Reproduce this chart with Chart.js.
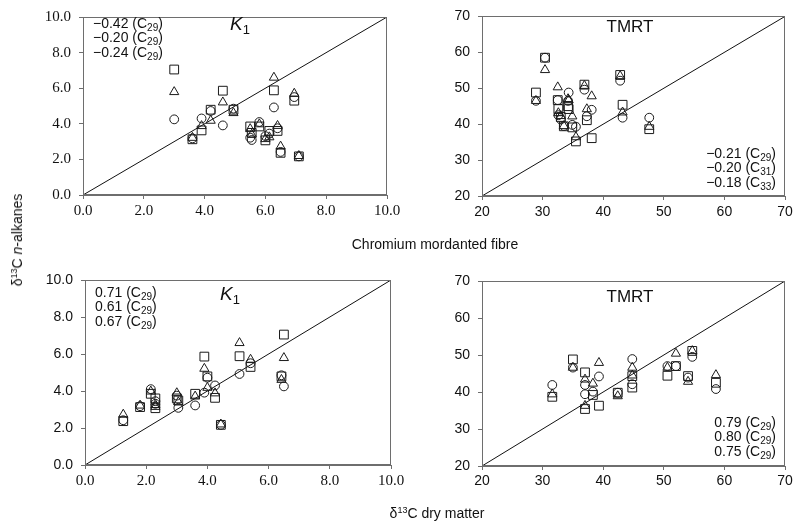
<!DOCTYPE html>
<html>
<head>
<meta charset="utf-8">
<script src="https://cdn.jsdelivr.net/npm/chart.js@4.4.1/dist/chart.umd.min.js"></script>
<style>
  html, body { margin:0; padding:0; background:#fff; }
  #wrap { position:relative; width:798px; height:526px; overflow:hidden; background:#fff; }
  canvas.full { position:absolute; left:0; top:0; }
  .ttl { position:absolute; font-family:"Liberation Sans", Arial, sans-serif; font-size:14px; color:#111; white-space:nowrap; transform:translate(-50%,-50%); }
  .ttl .sup { font-size:9px; position:relative; top:-5px; }
  #ytitle { transform:translate(-50%,-50%) rotate(-90deg); }
</style>
</head>
<body>
<div id="wrap">
  <canvas id="c1" class="full" width="798" height="526"></canvas>
  <canvas id="c2" class="full" width="798" height="526"></canvas>
  <canvas id="c3" class="full" width="798" height="526"></canvas>
  <canvas id="c4" class="full" width="798" height="526"></canvas>
  <div id="ytitle" class="ttl" style="left:17px; top:240px;">δ<span class="sup">13</span>C <i>n</i>-alkanes</div>
  <div class="ttl" style="left:435px; top:244px;">Chromium mordanted fibre</div>
  <div class="ttl" style="left:437px; top:513px;">δ<span class="sup">13</span>C dry matter</div>
</div>
<script>
// ---------------- DATA ----------------
// K1 panels: shared y values (n-alkanes), x = chromium mordanted fibre (top) / dry matter (bottom)
const k1Fibre    = [3.0, 3.6, 3.9, 4.2, 4.6, 4.95, 5.5, 5.55, 5.8, 6.0, 6.13, 6.28, 6.4, 6.5, 6.95, 7.1];
const k1Dry      = [6.5, 1.8, 4.25, 4.0, 3.9, 6.42, 3.6, 3.05, 2.15, 2.3, 2.3, 5.05, 3.0, 1.25, 5.41, 4.44];
const k1Circle   = [4.25, 3.18, 4.30, 4.72, 3.91, 4.85, 3.22, 3.09, 4.10, 3.31, 3.45, 4.92, 3.75, 2.42, 5.50, 2.17];
const k1Triangle = [5.79, 3.22, 3.88, 4.18, 5.21, 4.61, 3.71, 3.40, 3.98, 3.15, 3.25, 6.60, 3.89, 2.73, 5.70, 2.20];
const k1Square   = [7.05, 3.13, 3.63, 4.79, 5.86, 4.79, 3.85, 3.49, 3.85, 3.07, 3.60, 5.88, 3.60, 2.37, 5.30, 2.17];

// TMRT, chromium mordanted fibre (top right)
const tmrtFibre         = [28.9, 30.4, 32.5, 32.6, 33.0, 33.5, 34.3, 34.2, 34.9, 35.5, 36.9, 37.3, 38.1, 42.8, 43.2, 47.6];
const tmrtFibreCircle   = [46.5, 58.5, 46.7, 42.5, 41.3, 39.5, 48.8, 46.5, 39.8, 39.3, 49.6, 42.2, 44.0, 52.1, 41.8, 41.8];
const tmrtFibreTriangle = [46.5, 55.1, 50.3, 43.1, 42.3, 39.5, 46.7, 47.0, 42.2, 36.4, 50.7, 44.2, 47.8, 53.4, 43.3, 39.3];
const tmrtFibreSquare   = [48.8, 58.5, 46.7, 44.2, 42.0, 39.4, 44.2, 45.0, 39.1, 35.2, 51.0, 41.1, 36.1, 53.7, 45.4, 38.6];

// TMRT, dry matter (bottom right)
const tmrtDry         = [31.6, 35.0, 37.0, 37.0, 38.3, 39.3, 42.4, 44.8, 44.8, 50.6, 52.0, 54.0, 54.7, 58.6];
const tmrtDryCircle   = [41.9, 46.6, 41.9, 39.4, 40.1, 44.2, 39.8, 48.9, 42.1, 47.0, 47.0, 43.9, 49.5, 40.8];
const tmrtDryTriangle = [39.4, 46.6, 43.4, 36.3, 42.3, 47.9, 38.9, 46.6, 44.5, 46.6, 50.4, 42.8, 51.1, 44.6];
const tmrtDrySquare   = [38.7, 48.8, 45.3, 35.4, 39.2, 36.3, 39.8, 44.3, 41.2, 44.4, 47.0, 44.3, 51.1, 42.5];

// axis ranges / ticks
const k1Range   = [0, 10, 2];
const tmrtRange = [20, 70, 10];

// annotation texts: [main, subscript, close]
const annTL = [["\u22120.42 (C", "29", ")"], ["\u22120.20 (C", "29", ")"], ["\u22120.24 (C", "29", ")"]];
const annTR = [["\u22120.21 (C", "29", ")"], ["\u22120.20 (C", "31", ")"], ["\u22120.18 (C", "33", ")"]];
const annBL = [["0.71 (C", "29", ")"], ["0.61 (C", "29", ")"], ["0.67 (C", "29", ")"]];
const annBR = [["0.79 (C", "29", ")"], ["0.80 (C", "29", ")"], ["0.75 (C", "29", ")"]];

// ---------------- HELPERS ----------------
const SANS = '"Liberation Sans", Arial, sans-serif';
const SERIF = '"Liberation Serif", "Times New Roman", serif';

function pts(xs, ys) { return xs.map((x, i) => ({ x: x, y: ys[i] })); }

function seriesSets(xs, c, t, s) {
  const base = { backgroundColor: 'rgba(255,255,255,0)', borderColor: '#1a1a1a', borderWidth: 1, showLine: false };
  return [
    Object.assign({ label: 'circle', data: pts(xs, c), pointStyle: 'circle', pointRadius: 4.4 }, base),
    Object.assign({ label: 'triangle', data: pts(xs, t), pointStyle: 'triangle', pointRadius: 5.3 }, base),
    Object.assign({ label: 'square', data: pts(xs, s), pointStyle: 'rect', pointRadius: 6.2 }, base),
  ];
}

function drawRich(ctx, x, y, parts, align, size) {
  ctx.save();
  ctx.fillStyle = '#111';
  ctx.textBaseline = 'middle';
  ctx.textAlign = 'left';
  const big = size + 'px ' + SANS, small = Math.round(size * 0.72) + 'px ' + SANS;
  ctx.font = big; const w0 = ctx.measureText(parts[0]).width;
  ctx.font = small; const w1 = ctx.measureText(parts[1]).width;
  ctx.font = big; const w2 = ctx.measureText(parts[2]).width;
  let sx = align === 'right' ? x - (w0 + w1 + w2) : x;
  ctx.font = big; ctx.fillText(parts[0], sx, y);
  ctx.font = small; ctx.fillText(parts[1], sx + w0, y + 4);
  ctx.font = big; ctx.fillText(parts[2], sx + w0 + w1, y);
  ctx.restore();
}

function makePanel(id, area, range, xs, c, t, s, opts) {
  const [mn, mx, st] = range;
  const fmt = opts.decimals ? (v => Number(v).toFixed(1)) : (v => String(v));
  const framePlugin = {
    id: 'frame' + id,
    afterDatasetsDraw(chart) {
      const a = chart.chartArea, ctx = chart.ctx;
      ctx.save();
      ctx.strokeStyle = '#6e6e6e';
      ctx.lineWidth = 1;
      ctx.strokeRect(Math.round(a.left) + 0.5, Math.round(a.top) + 0.5, Math.round(a.right - a.left) - 1, Math.round(a.bottom - a.top) - 1);
      ctx.restore();
      // panel title
      ctx.save();
      ctx.fillStyle = '#111';
      ctx.textBaseline = 'middle';
      if (opts.title === 'K') {
        ctx.font = 'italic 19px ' + SANS;
        ctx.textAlign = 'left';
        const w = ctx.measureText('K').width;
        ctx.fillText('K', opts.titlePos[0] - 8, opts.titlePos[1]);
        ctx.font = '13px ' + SANS;
        ctx.fillText('1', opts.titlePos[0] - 8 + w, opts.titlePos[1] + 5);
      } else {
        ctx.font = '17px ' + SANS;
        ctx.textAlign = 'center';
        ctx.fillText(opts.title, opts.titlePos[0], opts.titlePos[1]);
      }
      ctx.restore();
      opts.ann.forEach((p, i) => drawRich(ctx, opts.annPos[0], opts.annPos[1] + i * 14.5, p, opts.annAlign, 14));
    }
  };
  const cfg = {
    type: 'scatter',
    data: {
      datasets: [
        { type: 'line', label: '1:1', data: [{ x: mn, y: mn }, { x: mx, y: mx }], borderColor: '#111', borderWidth: 1, pointRadius: 0, fill: false, order: 5 },
        ...seriesSets(xs, c, t, s)
      ]
    },
    options: {
      responsive: false,
      animation: false,
      devicePixelRatio: 1,
      layout: { padding: { left: area.left - 45, top: area.top, right: 798 - area.right, bottom: 526 - 30 - area.bottom } },
      plugins: { legend: { display: false }, tooltip: { enabled: false } },
      scales: {
        x: {
          type: 'linear', min: mn, max: mx,
          afterFit(sc) { sc.height = 30; },
          ticks: { stepSize: st, callback: fmt, color: '#111', padding: opts.xPad, font: { family: opts.xFont, size: opts.xSize }, maxRotation: 0, autoSkip: false },
          grid: { display: true, drawOnChartArea: false, drawTicks: true, tickLength: 4, color: '#6e6e6e' },
          border: { display: true, color: '#6e6e6e' }
        },
        y: {
          type: 'linear', min: mn, max: mx,
          afterFit(sc) { sc.width = 45; },
          ticks: { stepSize: st, callback: fmt, color: '#111', padding: 8, font: { family: opts.yFont, size: opts.ySize }, autoSkip: false },
          grid: { display: true, drawOnChartArea: false, drawTicks: true, tickLength: 4, color: '#6e6e6e' },
          border: { display: true, color: '#6e6e6e' }
        }
      }
    },
    plugins: [framePlugin]
  };
  const chart = new Chart(document.getElementById(id), cfg);
  // correct to exact plot area
  const ca = chart.chartArea, p = chart.options.layout.padding;
  const dl = area.left - ca.left, dt = area.top - ca.top, dr = ca.right - area.right, db = ca.bottom - area.bottom;
  if (Math.abs(dl) + Math.abs(dt) + Math.abs(dr) + Math.abs(db) > 0.5) {
    chart.options.layout.padding = { left: p.left + dl, top: p.top + dt, right: p.right + dr, bottom: p.bottom + db };
    chart.update('none');
  }
  return chart;
}

makePanel('c1', { left: 83, top: 10, right: 387, bottom: 195 }, k1Range, k1Fibre, k1Circle, k1Triangle, k1Square,
  { decimals: true, xFont: SERIF, yFont: SERIF, xSize: 15, ySize: 15, xPad: 3, title: 'K', titlePos: [238, 25], ann: annTL, annPos: [93, 24], annAlign: 'left' });
makePanel('c2', { left: 482, top: 10, right: 785, bottom: 196 }, tmrtRange, tmrtFibre, tmrtFibreCircle, tmrtFibreTriangle, tmrtFibreSquare,
  { decimals: false, xFont: SANS, yFont: SANS, xSize: 14, ySize: 14, xPad: 4, title: 'TMRT', titlePos: [630, 27], ann: annTR, annPos: [776, 154], annAlign: 'right' });
makePanel('c3', { left: 85, top: 280, right: 391, bottom: 465 }, k1Range, k1Dry, k1Circle, k1Triangle, k1Square,
  { decimals: true, xFont: SERIF, yFont: SANS, xSize: 15, ySize: 14, xPad: 3, title: 'K', titlePos: [228, 295], ann: annBL, annPos: [95, 293], annAlign: 'left' });
makePanel('c4', { left: 482, top: 281, right: 785, bottom: 466 }, tmrtRange, tmrtDry, tmrtDryCircle, tmrtDryTriangle, tmrtDrySquare,
  { decimals: false, xFont: SANS, yFont: SANS, xSize: 14, ySize: 14, xPad: 3, title: 'TMRT', titlePos: [630, 297], ann: annBR, annPos: [776, 423], annAlign: 'right' });
</script>
</body>
</html>
